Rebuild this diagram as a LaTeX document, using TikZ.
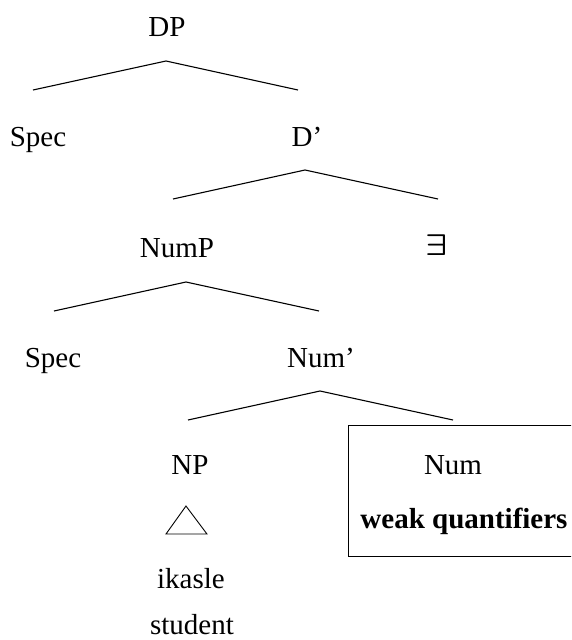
\documentclass[tikz,border=0pt]{standalone}
\usepackage{fontspec}
\usepackage{graphicx}
\setmainfont{Liberation Serif}
\begin{document}
\begin{tikzpicture}[x=1pt,y=-1pt,
  lbl/.style={anchor=base,inner sep=0pt,font=\fontsize{29}{35}\selectfont},
  blbl/.style={lbl,font=\fontsize{29}{35}\selectfont\bfseries},
  branch/.style={line width=1.1pt,line join=miter},
  numbox/.style={draw,line width=1.1pt,inner sep=0pt,minimum width=240pt,minimum height=131pt}]
\useasboundingbox (0,0) rectangle (571,640);
\clip (0,0) rectangle (571,640);
% labels
\node[lbl] (dp) at (167,36) {DP};
\node[lbl] (spec1) at (38,146) {Spec};
\node[lbl] (dbar) at (307,146) {D’};
\node[lbl] (nump) at (177,257) {NumP};
\node[lbl] (ex) at (437,255) {\scalebox{1.4}[1.2]{\boldmath$\exists$}};
\node[lbl] (spec2) at (53,367) {Spec};
\node[lbl] (numbar) at (321,367) {Num’};
\node[lbl] (np) at (190,474) {NP};
\node[lbl] (num) at (453,474) {Num};
\node[blbl] (weak) at (464,528) {weak quantifiers};
\node[lbl] (ikasle) at (191,588) {ikasle};
\node[lbl] (student) at (192,634) {student};
% box round Num
\node[numbox,anchor=north west] (box) at (348,425) {};
% branch points
\coordinate (dpL) at (33,90);  \coordinate (dpA) at (166,61);  \coordinate (dpR) at (298,90);
\coordinate (dbL) at (173,199); \coordinate (dbA) at (305,170); \coordinate (dbR) at (438,199);
\coordinate (npL) at (54,311);  \coordinate (npA) at (186,282); \coordinate (npR) at (319,311);
\coordinate (nbL) at (188,420); \coordinate (nbA) at (320,391); \coordinate (nbR) at (453,420);
\coordinate (trA) at (186,506); \coordinate (trL) at (166,534); \coordinate (trR) at (207,534);
\draw[branch] (dpL) -- (dpA) -- (dpR);
\draw[branch] (dbL) -- (dbA) -- (dbR);
\draw[branch] (npL) -- (npA) -- (npR);
\draw[branch] (nbL) -- (nbA) -- (nbR);
\draw[line width=0.9pt] (trA) -- (trL) -- (trR) -- cycle;
\end{tikzpicture}
\end{document}
